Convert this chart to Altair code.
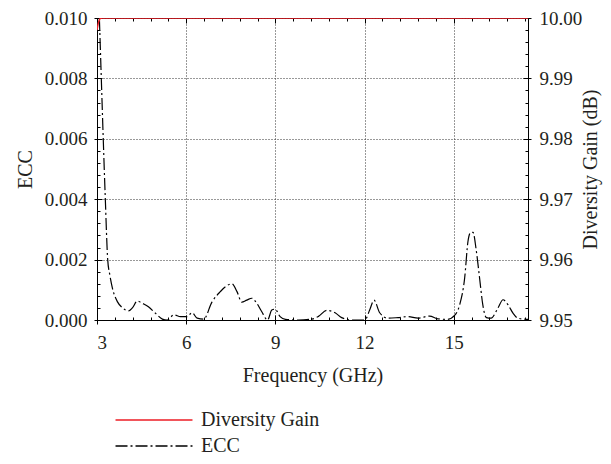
import altair as alt
import pandas as pd

# ---------------- data ----------------
ecc_freq = [3.08, 3.145, 3.21, 3.28, 3.36, 3.43, 3.52, 3.69, 3.86, 4.06, 4.19, 4.36, 4.53,
            4.73, 4.97, 5.2, 5.36, 5.59, 5.81, 6.03, 6.2, 6.37, 6.59, 6.87, 7.15, 7.32, 7.54,
            7.71, 7.87, 8.04, 8.21, 8.38, 8.54, 8.74, 8.88, 8.99, 9.16, 9.34, 9.78, 10.23,
            10.45, 10.73, 11.01, 11.23, 11.57, 12.01, 12.18, 12.32, 12.51, 12.79, 13.13,
            13.46, 13.8, 14.19, 14.47, 14.8, 15.03, 15.2, 15.37, 15.48, 15.57, 15.65, 15.76,
            15.87, 15.98, 16.1, 16.26, 16.49, 16.66, 16.83, 17.0, 17.16, 17.38, 17.5]
ecc_vals = [0.0100, 0.0080, 0.0060, 0.0040, 0.0020, 0.0015, 0.00105, 0.0006, 0.0004, 0.0003,
            0.0004, 0.00063, 0.00055, 0.00044, 0.00022, 0.00003, 0.0, 0.00017, 0.00011,
            0.00011, 0.00024, 0.00006, 0.00003, 0.0006, 0.00094, 0.0011, 0.0012, 0.00094,
            0.00059, 0.00066, 0.00072, 0.00055, 0.00028, 0.0, 0.00033, 0.00036, 0.00011,
            0.00002, 0.0, 0.00003, 0.00012, 0.00032, 0.00024, 0.00008, 0.0, 0.0, 0.00035,
            0.00066, 0.00024, 0.00006, 0.00008, 0.00011, 0.00006, 0.00013, 0.00004, 0.00002,
            0.00015, 0.0005, 0.0014, 0.0026, 0.0029, 0.0029, 0.0023, 0.0014, 0.0005, 0.00008,
            0.00006, 0.0004, 0.00067, 0.0005, 0.00022, 0.00006, 0.00003, 0.00002]

dg_freq = [3.0, 3.05, 3.1, 3.2, 17.5]
dg_vals = [9.998, 9.9993, 9.9999, 10.0, 10.0]

series_names = ["Diversity Gain", "ECC"]
series_colors = ["#ed1c24", "#000000"]
series_dashes = [[1, 0], [12, 3, 2, 3]]

x_major = [3, 6, 9, 12, 15]
x_all = [3, 3.6, 4.2, 4.8, 5.4, 6, 6.6, 7.2, 7.8, 8.4, 9, 9.6, 10.2, 10.8, 11.4, 12,
         12.6, 13.2, 13.8, 14.4, 15, 15.6, 16.2, 16.8, 17.4]
ecc_major = [0.0, 0.002, 0.004, 0.006, 0.008, 0.010]
ecc_all = [0.0, 0.0004, 0.0008, 0.0012, 0.0016, 0.002, 0.0024, 0.0028, 0.0032, 0.0036,
           0.004, 0.0044, 0.0048, 0.0052, 0.0056, 0.006, 0.0064, 0.0068, 0.0072, 0.0076,
           0.008, 0.0084, 0.0088, 0.0092, 0.0096, 0.010]
dg_major = [9.95, 9.96, 9.97, 9.98, 9.99, 10.00]
dg_all = [9.95, 9.952, 9.954, 9.956, 9.958, 9.96, 9.962, 9.964, 9.966, 9.968, 9.97, 9.972,
          9.974, 9.976, 9.978, 9.98, 9.982, 9.984, 9.986, 9.988, 9.99, 9.992, 9.994, 9.996,
          9.998, 10.0]

W, H = 431, 302
FONT = "Liberation Serif"
TXT = "#231f20"

ecc_df = pd.DataFrame({"freq": ecc_freq, "value": ecc_vals, "series": "ECC"})
dg_df = pd.DataFrame({"freq": dg_freq, "value": dg_vals, "series": "Diversity Gain"})

x_scale = alt.Scale(domain=[3, 17.5], nice=False, zero=False)
ecc_scale = alt.Scale(domain=[0, 0.010], nice=False, zero=False)
dg_scale = alt.Scale(domain=[9.95, 10.0], nice=False, zero=False)

x_major_test = "abs(datum.value/3 - round(datum.value/3)) < 0.01"
ecc_major_test = "abs(datum.value/0.002 - round(datum.value/0.002)) < 0.01"
dg_major_test = "abs((datum.value-9.95)/0.01 - round((datum.value-9.95)/0.01)) < 0.01"

legend = alt.Legend(
    title=None, orient="none", legendX=47, legendY=392, padding=0,
    symbolType="M-5,0L5,0", symbolSize=237, symbolStrokeWidth=1.3,
    labelFont=FONT, labelFontSize=20, labelColor=TXT, labelOffset=37,
    rowPadding=6,
)
color_enc = alt.Color("series:N", scale=alt.Scale(domain=series_names, range=series_colors),
                      legend=legend)
dash_enc = alt.StrokeDash("series:N", scale=alt.Scale(domain=series_names, range=series_dashes),
                          legend=legend)

grid_kw = dict(grid=True, gridColor="#333333", gridDash=[1, 2], gridWidth=1)
font_kw = dict(labelFont=FONT, labelFontSize=19, labelColor=TXT,
               titleFont=FONT, titleFontSize=20, titleFontWeight="normal", titleColor=TXT)

# layer 1: ECC line, bottom and left axes with labels
l1 = alt.Chart(ecc_df).mark_line(strokeWidth=1.2, interpolate="monotone", clip=True).encode(
    x=alt.X("freq:Q", scale=x_scale, axis=alt.Axis(
        orient="bottom", values=x_major, title="Frequency (GHz)", tickSize=4,
        labelPadding=24, labelBaseline="alphabetic", titleY=61, titleBaseline="alphabetic",
        **grid_kw, **font_kw)),
    y=alt.Y("value:Q", scale=ecc_scale, axis=alt.Axis(
        orient="left", values=ecc_major, format=".3f", title="ECC", tickSize=3,
        labelPadding=7, titleAngle=270, titleX=-66, titleY=H / 2, titleAlign="center",
        titleBaseline="alphabetic", **grid_kw, **font_kw)),
    color=color_enc,
    strokeDash=dash_enc,
)

# layer 2: diversity gain, right axis with labels
l2 = alt.Chart(dg_df).mark_line(strokeWidth=1.4, clip=True).encode(
    x=alt.X("freq:Q", scale=x_scale, axis=None),
    y=alt.Y("value:Q", scale=dg_scale, axis=alt.Axis(
        orient="right", values=dg_major, format=".2f", title="Diversity Gain (dB)",
        tickSize=3, labelPadding=8, grid=False, titleAngle=270, titleX=68, titleY=H / 2,
        titleAlign="center", titleBaseline="alphabetic", **font_kw)),
    color=color_enc,
    strokeDash=dash_enc,
)

tick_kw = dict(labels=False, title=None, domain=False, grid=False)

# layer 3: inward ticks on bottom and left edges
l3 = alt.Chart(ecc_df).mark_line(opacity=0).encode(
    x=alt.X("freq:Q", scale=x_scale, axis=alt.Axis(
        orient="top", offset=-H, values=x_all,
        tickSize={"condition": {"test": x_major_test, "value": 5}, "value": 3}, **tick_kw)),
    y=alt.Y("value:Q", scale=ecc_scale, axis=alt.Axis(
        orient="right", offset=-W, values=ecc_all,
        tickSize={"condition": {"test": ecc_major_test, "value": 5}, "value": 3}, **tick_kw)),
)

# layer 4: inward ticks on top and right edges
l4 = alt.Chart(dg_df).mark_line(opacity=0).encode(
    x=alt.X("freq:Q", scale=x_scale, axis=alt.Axis(
        orient="bottom", offset=-H, values=x_all,
        tickSize={"condition": {"test": x_major_test, "value": 5}, "value": 3}, **tick_kw)),
    y=alt.Y("value:Q", scale=dg_scale, axis=alt.Axis(
        orient="left", offset=-W, values=dg_all,
        tickSize={"condition": {"test": dg_major_test, "value": 5}, "value": 3}, **tick_kw)),
)

chart = alt.layer(l1, l2, l3, l4).resolve_scale(
    y="independent"
).resolve_axis(
    x="independent", y="independent"
).properties(
    width=W, height=H, autosize="none",
    padding={"left": 89, "top": 10, "right": 75, "bottom": 136},
).configure_view(
    stroke="#000000", strokeWidth=1
).configure_axis(
    labelFont=FONT, labelFontSize=19, labelColor=TXT,
    titleFont=FONT, titleFontSize=20, titleFontWeight="normal", titleColor=TXT,
    domainColor="#000000", domainWidth=1, tickColor="#000000", tickWidth=1,
).configure_text(font=FONT)

chart.save("out.html", embed_options={"renderer": "svg", "actions": False})
